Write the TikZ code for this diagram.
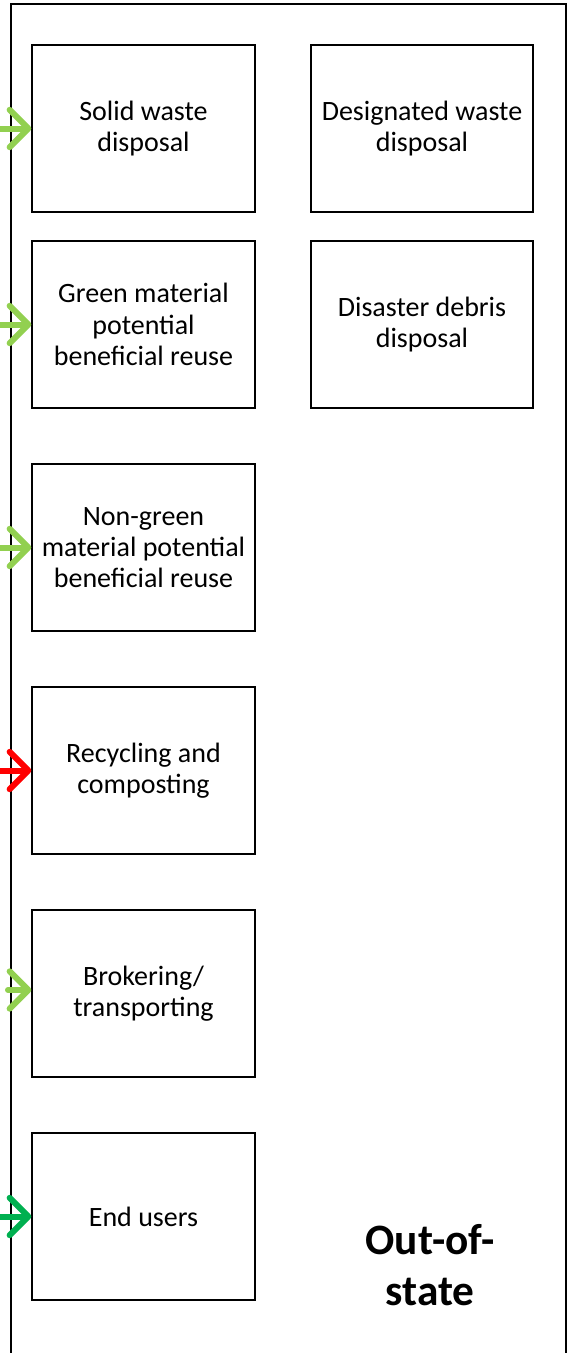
\documentclass[tikz,border=0pt]{standalone}
\usepackage{fontspec}
\setmainfont{Carlito}
\usepackage{xcolor}
\usepackage{tikz}
\usetikzlibrary{arrows.meta}
\definecolor{lightgreen}{HTML}{92D050}
\definecolor{darkgreen}{HTML}{00B050}
\tikzset{
	facility/.style={rectangle, draw=black, line width=1.3pt, fill=white, minimum width=167pt, minimum height=125pt, align=center, font=\fontsize{21}{23.5}\selectfont},
	flow/.style={line width=4.5pt, line cap=round, line join=round, -{Straight Barb[length=14pt, width=28pt, round]}},
}
\begin{document}
\begin{tikzpicture}[x=0.75pt, y=-0.75pt]
				\useasboundingbox (0,0) rectangle (570,1353);
				\draw[line width=1.4pt] (11,1365) -- (11,4) -- (566,4) -- (566,1365);
				\node[facility] (nodesolid) at (143.5,128.5){Solid waste\\disposal};
				\node[facility] (nodegreen) at (143.5,324.5){Green material\\potential\\beneficial reuse};
				\node[facility] (nodenongreen) at (143.5,547.5){Non-green\\material potential\\beneficial reuse};
				\node[facility] (noderecycling) at (143.5,770.5){Recycling and\\composting};
				\node[facility] (nodebroker) at (143.5,993.5){Brokering/\\transporting};
				\node[facility] (nodeend) at (143.5,1216.5){End users};
				\node[facility] (nodedesignated) at (422,128.5){Designated waste\\disposal};
				\node[facility] (nodedisaster) at (422,324.5){Disaster debris\\disposal};
				\node[align=center, font=\fontsize{32.5}{38}\selectfont\bfseries] (nodeoutofstate) at (430,1265){Out-of-\\state};
				\coordinate (insolid) at (-4,128.5);
				\coordinate (ingreen) at (-4,324.5);
				\coordinate (innongreen) at (-4,547.5);
				\coordinate (inrecycling) at (-4,770.5);
				\coordinate (inbroker) at (8,990);
				\coordinate (inend) at (-4,1216.5);
				\draw[flow, lightgreen] (insolid) -- (nodesolid.west);
				\draw[flow, lightgreen] (ingreen) -- (nodegreen.west);
				\draw[flow, lightgreen] (innongreen) -- (nodenongreen.west);
				\draw[flow, red] (inrecycling) -- (noderecycling.west);
				\draw[flow, lightgreen] (inbroker) -- (nodebroker.west |- inbroker);
				\draw[flow, darkgreen] (inend) -- (nodeend.west);
			\end{tikzpicture}
\end{document}
